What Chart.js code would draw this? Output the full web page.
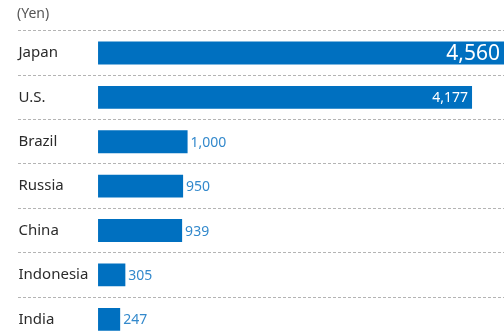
<!DOCTYPE html>
<html>
<head>
<meta charset="utf-8">
<script src="https://cdn.jsdelivr.net/npm/chart.js@4/dist/chart.umd.min.js"></script>
<style>
  html, body { margin: 0; padding: 0; background: #fff; overflow: hidden; }
  #frame { width: 504px; height: 331px; overflow: hidden; }
  canvas { display: block; }
</style>
</head>
<body>
<!-- canvas is taller than the frame: the last row is cut off at the bottom, like the source -->
<div id="frame"><canvas id="chart" width="504" height="351"></canvas></div>
<script>
const countries = ["Japan", "U.S.", "Brazil", "Russia", "China", "Indonesia", "India"];
const prices = [4560, 4177, 1000, 950, 939, 305, 247];
const unitLabel = "(Yen)";

// values next to / inside bars
const valueLabels = {
  id: "valueLabels",
  afterDatasetsDraw(chart) {
    const ctx = chart.ctx;
    const area = chart.chartArea;
    const meta = chart.getDatasetMeta(0);
    ctx.save();
    ctx.textBaseline = "middle";
    meta.data.forEach((bar, i) => {
      const text = prices[i].toLocaleString("en-US");
      const inside = bar.x - bar.base > 300;
      if (inside) {
        ctx.font = (i === 0 ? "21px" : "14px") + " 'Noto Sans'";
        ctx.fillStyle = "#fff";
        ctx.textAlign = "right";
        ctx.fillText(text, Math.min(bar.x, area.right) - 4, bar.y + 1);
      } else {
        ctx.font = "14px 'Noto Sans'";
        ctx.fillStyle = "#3389cc";
        ctx.textAlign = "left";
        ctx.fillText(text, bar.x + 3, bar.y + 1);
      }
    });
    ctx.restore();
  }
};

new Chart(document.getElementById("chart"), {
  type: "bar",
  data: {
    labels: countries,
    datasets: [{
      data: prices,
      backgroundColor: "#0070c0",
      categoryPercentage: 1,
      barPercentage: 0.515
    }]
  },
  options: {
    indexAxis: "y",
    responsive: false,
    animation: false,
    layout: { padding: { left: 17, right: 0, top: 0, bottom: 0 } },
    plugins: {
      legend: { display: false },
      tooltip: { enabled: false },
      title: {
        display: true,
        text: unitLabel,
        align: "start",
        color: "#555",
        font: { family: "Noto Sans", size: 14, weight: "normal" },
        padding: { top: 6, bottom: 8 }
      }
    },
    scales: {
      x: {
        display: false,
        min: -894,
        max: 4534,
        grid: { display: false }
      },
      y: {
        border: { display: false, dash: [3, 2] },
        grid: {
          color: "#b4b4b4",
          lineWidth: 1,
          drawTicks: false
        },
        ticks: {
          mirror: true,
          padding: 0.5,
          color: "#2b2b2b",
          font: { family: "Noto Sans", size: 15 }
        }
      }
    }
  },
  plugins: [valueLabels]
});
</script>
</body>
</html>
